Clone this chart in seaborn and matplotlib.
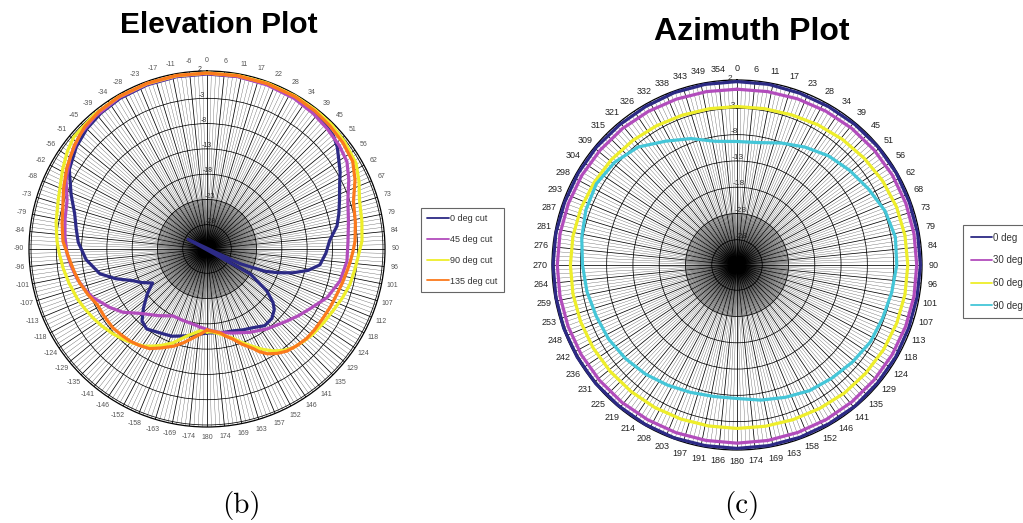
import numpy as np
import matplotlib
matplotlib.use("Agg")
import matplotlib.pyplot as plt
import seaborn as sns
from matplotlib.lines import Line2D

sns.set_style("white")
plt.rcParams["font.family"] = ["Liberation Sans", "DejaVu Sans"]
plt.rcParams["text.color"] = "black"

# ---------------------------------------------------------------- scale (dB)
R_MIN, R_MAX = -32.8, 2.4
ring_levels = [-28, -23, -18, -13, -8, -3, 2]
ring_labels = ["-28", "-23", "-18", "-13", "-8", "-3", "2"]

# angular tick labels, clockwise from the top, every 360/64 degrees
el_tick_labels = ["0", "6", "11", "17", "22", "28", "34", "39", "45", "51", "56",
                  "62", "67", "73", "79", "84", "90", "96", "101", "107", "112",
                  "118", "124", "129", "135", "141", "146", "152", "157", "163",
                  "169", "174", "180", "-174", "-169", "-163", "-158", "-152",
                  "-146", "-141", "-135", "-129", "-124", "-118", "-113", "-107",
                  "-101", "-96", "-90", "-84", "-79", "-73", "-68", "-62", "-56",
                  "-51", "-45", "-39", "-34", "-28", "-23", "-17", "-11", "-6"]
az_tick_labels = ["0", "6", "11", "17", "23", "28", "34", "39", "45", "51", "56",
                  "62", "68", "73", "79", "84", "90", "96", "101", "107", "113",
                  "118", "124", "129", "135", "141", "146", "152", "158", "163",
                  "169", "174", "180", "186", "191", "197", "203", "208", "214",
                  "219", "225", "231", "236", "242", "248", "253", "259", "264",
                  "270", "276", "281", "287", "293", "298", "304", "309", "315",
                  "321", "326", "332", "338", "343", "349", "354"]

# ---------------------------------------------------------------- elevation cuts
el_names = ["0 deg cut", "45 deg cut", "90 deg cut", "135 deg cut"]

el_cut0_ang = [-180, -172, -165, -158, -151, -143, -138, -133, -127, -122, -117,
               -113, -108, -103, -95, -87, -81, -75, -68, -60, -52, -45, -38, -30,
               -20, -10, 0, 10, 20, 30, 36, 42, 48, 52, 56, 60, 63, 66, 70, 75, 80,
               86, 92, 98, 102, 105.5, 108.5, 111, 114, 117, 120, 125, 129, 132,
               137, 143, 150, 156, 162, 170, 180]
el_cut0_db = [-16.2, -15.6, -15.0, -14.2, -13.8, -13.0, -13.6, -15.6, -18.0, -20.1,
              -18.2, -16.8, -13.8, -11.05, -8.8, -7.3, -6.6, -5.7, -3.8, -1.36,
              0.0, 0.82, 1.3, 1.61, 1.75, 1.81, 1.81, 1.85, 1.9, 1.81, 1.65, 1.3,
              0.82, -0.1, -1.36, -2.4, -3.34, -4.1, -4.92, -5.8, -6.7, -8.48,
              -9.27, -10.26, -12.4, -15.2, -18.0, -20.54, -25.68, -37.0, -22.91,
              -18.36, -16.0, -14.9, -14.0, -13.82, -14.81, -15.3, -15.79, -16.0,
              -16.2]

el_cut45_ang = [-180, -175, -169, -161, -153, -144, -134, -127, -121, -113, -108,
                -103, -97, -92, -85, -78, -71, -64, -56, -48, -40, -30, -20, -10,
                0, 10, 20, 30, 38, 45, 52, 58, 64, 71, 79, 87, 95, 103.5, 112, 120,
                126, 132, 143, 153, 163, 170, 176, 180]
el_cut45_db = [-16.9, -17.3, -17.71, -17.9, -17.95, -16.5, -14.47, -12.0, -10.36,
               -8.28, -7.3, -6.46, -5.7, -5.12, -4.6, -4.1, -3.53, -1.8, -0.2,
               1.01, 1.5, 1.81, 1.88, 1.9, 1.9, 1.85, 1.75, 1.61, 1.25, 0.82, 0.4,
               -0.17, -1.6, -3.34, -4.3, -4.88, -5.02, -5.75, -7.17, -9.23, -10.4,
               -11.52, -13.03, -14.3, -15.42, -16.0, -16.55, -16.9]

el_cut90_ang = [-180, -175, -171, -167, -160, -155, -151, -147, -142, -137, -132,
                -126, -121, -116, -111, -104, -97.5, -92, -87, -80, -72, -66, -61,
                -55, -50, -40, -30, -20, -10, 0, 10, 20, 30, 38, 45, 52, 60, 66, 72,
                80, 87, 93, 98, 104, 110, 116, 122, 129, 134, 139, 143, 147, 151,
                155, 160, 164, 170, 176, 180]
el_cut90_db = [-16.4, -16.53, -15.9, -15.14, -13.03, -11.8, -10.85, -9.9, -9.15,
               -8.4, -7.75, -7.0, -6.44, -5.9, -5.33, -4.7, -4.09, -3.6, -3.1,
               -2.5, -1.85, -1.1, -0.17, 0.9, 1.61, 1.9, 2.0, 2.0, 2.0, 2.0, 2.05,
               2.1, 2.1, 2.05, 2.0, 1.7, 1.21, 0.1, -1.1, -1.7, -2.11, -2.88, -3.3,
               -3.69, -4.35, -5.04, -5.5, -5.93, -6.4, -6.88, -7.7, -8.77, -10.1,
               -11.56, -13.2, -14.47, -15.6, -16.35, -16.4]

el_cut135_ang = [-180, -176, -171, -166, -161, -155, -150, -145, -140, -135, -130,
                 -123, -117, -111, -105, -100, -95, -87, -80, -74, -67, -60, -52,
                 -45, -38, -30, -20, -10, 0, 10, 20, 30, 38, 45, 52, 59, 65, 72, 80,
                 87, 91, 95, 99, 104, 109, 115, 121, 127, 132, 137, 142, 146, 150,
                 153, 155, 160, 164, 168, 171, 176, 180]
el_cut135_db = [-16.78, -16.0, -14.98, -13.7, -12.47, -11.2, -10.06, -9.5, -9.07,
                -8.8, -8.52, -8.5, -8.48, -7.6, -6.76, -6.2, -5.61, -4.28, -3.7,
                -3.14, -2.0, -0.77, 0.5, 1.41, 1.8, 2.0, 2.05, 2.05, 2.0, 2.0, 2.0,
                2.0, 1.85, 1.61, 1.3, 0.82, -0.5, -2.35, -3.0, -3.49, -3.93, -4.35,
                -4.78, -5.2, -5.59, -5.85, -6.1, -6.2, -6.32, -6.7, -7.17, -7.9,
                -8.87, -10.0, -11.05, -12.8, -14.27, -15.2, -15.99, -16.5, -16.78]

# ---------------------------------------------------------------- azimuth cuts
az_names = ["0 deg", "30 deg", "60 deg", "90 deg"]
az_ang = list(range(0, 360, 10))
az_deg0_db = [2.1, 2.1, 2.0, 2.0, 2.1, 2.2, 2.2, 2.1, 2.1, 2.1, 2.0, 2.0, 2.1, 2.1,
              2.2, 2.1, 2.1, 2.1, 2.1, 2.1, 2.2, 2.2, 2.2, 2.3, 2.3, 2.3, 2.2, 2.2,
              2.2, 2.1, 2.1, 2.1, 2.0, 2.0, 2.1, 2.1]
az_deg30_db = [0.65, 0.7, 0.85, 1.0, 1.15, 1.25, 1.35, 1.4, 1.4, 1.4, 1.4, 1.35, 1.3,
               1.25, 1.2, 1.15, 1.1, 1.1, 1.1, 1.1, 1.15, 1.2, 1.3, 1.35, 1.4, 1.4,
               1.4, 1.4, 1.4, 1.35, 1.3, 1.2, 1.1, 0.95, 0.8, 0.7]
az_deg60_db = [-2.65, -2.6, -2.4, -2.0, -1.6, -1.2, -0.8, -0.5, -0.35, -0.3, -0.35,
               -0.45, -0.6, -0.8, -1.0, -1.3, -1.5, -1.65, -1.7, -1.7, -1.6, -1.5,
               -1.4, -1.3, -1.2, -1.15, -1.1, -1.1, -1.1, -1.2, -1.4, -1.6, -1.9,
               -2.2, -2.45, -2.6]
az_deg90_db = [-9.3, -9.15, -8.1, -6.9, -5.7, -4.8, -3.9, -2.8, -2.2, -2.4, -2.9,
               -3.3, -3.5, -4.1, -4.7, -5.2, -6.0, -6.7, -7.4, -7.4, -7.0, -6.4,
               -5.7, -5.1, -4.6, -4.3, -3.8, -3.4, -2.8, -2.2, -1.9, -2.4, -3.5,
               -5.6, -7.2, -8.9]

colors = ["#2c2a85", "#b24cbc", "#eeee2a", "#fb7a1c"]
az_colors = ["#2c2a85", "#b24cbc", "#eeee2a", "#44c6d8"]


def style_polar(ax, labels, label_size, label_color, pad, rlabel_size):
    ax.set_theta_zero_location("N")
    ax.set_theta_direction(-1)
    ax.set_xticks(np.deg2rad(np.arange(64) * 5.625))
    ax.set_xticklabels(labels)
    ax.set_xticks(np.deg2rad(np.arange(256) * 1.40625), minor=True)
    ax.set_ylim(R_MIN, R_MAX)
    ax.set_yticks(ring_levels)
    ax.set_yticklabels(ring_labels)
    ax.set_rlabel_position(-3)
    ax.grid(True, which="major", color="black", lw=0.55)
    ax.xaxis.grid(True, which="minor", color="black", lw=0.25, alpha=0.7)
    # extra-fine radial hatching around the pole, up to the -23 dB ring
    fine = np.deg2rad(np.arange(720) * 0.5)
    ax.vlines(fine, R_MIN, ring_levels[1], color="black", lw=0.18, alpha=0.45,
              zorder=1)
    ax.tick_params(axis="x", which="both", pad=pad, labelsize=label_size,
                   labelcolor=label_color, length=0)
    ax.tick_params(axis="y", labelsize=rlabel_size, labelcolor="#333333")
    ax.spines["polar"].set_color("black")
    ax.spines["polar"].set_linewidth(0.9)
    ax.set_xlabel("")
    ax.set_ylabel("")
    ax.set_ylim(R_MIN, R_MAX)


def polar_trace(ax, ang_deg, db, color):
    th = np.deg2rad(np.asarray(ang_deg, dtype=float))
    r = np.asarray(db, dtype=float)
    # readings below the inner limit are drawn through the centre
    below = r < R_MIN
    th = np.where(below, th + np.pi, th)
    r = np.where(below, 2 * R_MIN - r, r)
    sns.lineplot(x=th, y=r, ax=ax, sort=False, estimator=None, color=color,
                 lw=2.3, legend=False, clip_on=False, zorder=5)


fig = plt.figure(figsize=(10.23, 5.23), dpi=100)
W, H = 1023, 523

# ---------------------------------------------------------------- elevation
ax_el = fig.add_axes([29 / W, 96 / H, 356 / W, 356 / H], projection="polar")
for ang, db, c in zip([el_cut0_ang, el_cut45_ang, el_cut90_ang, el_cut135_ang],
                      [el_cut0_db, el_cut45_db, el_cut90_db, el_cut135_db], colors):
    polar_trace(ax_el, ang, db, c)
style_polar(ax_el, el_tick_labels, 5, "#555555", 0.5, 5)

# ---------------------------------------------------------------- azimuth
ax_az = fig.add_axes([552 / W, 73 / H, 370 / W, 370 / H], projection="polar")
for db, c in zip([az_deg0_db, az_deg30_db, az_deg60_db, az_deg90_db], az_colors):
    polar_trace(ax_az, az_ang + [360], db + db[:1], c)
style_polar(ax_az, az_tick_labels, 6.5, "#222222", 1.5, 6)

# ---------------------------------------------------------------- legends
el_handles = [Line2D([], [], color=c, lw=1.3) for c in colors]
fig.legend(el_handles, el_names, loc="upper left",
           bbox_to_anchor=(421 / W, 1 - 208 / H), bbox_transform=fig.transFigure,
           fontsize=6.5, handlelength=2.4, handletextpad=0.1, labelspacing=1.3,
           borderpad=0.7, borderaxespad=0, fancybox=False, framealpha=1,
           edgecolor="#666666", labelcolor="#333333").get_frame().set_linewidth(0.8)

az_handles = [Line2D([], [], color=c, lw=1.3) for c in az_colors]
fig.legend(az_handles, az_names, loc="upper left",
           bbox_to_anchor=(963 / W, 1 - 225 / H), bbox_transform=fig.transFigure,
           fontsize=7, handlelength=2.2, handletextpad=0.1, labelspacing=1.3,
           borderpad=0.8, borderaxespad=0, fancybox=False, framealpha=1,
           edgecolor="#666666", labelcolor="#333333").get_frame().set_linewidth(0.8)

# ---------------------------------------------------------------- titles
fig.text(219 / W, 1 - 25 / H, "Elevation Plot", ha="center", va="center",
         fontsize=21.5, fontweight="bold", color="black")
fig.text(752 / W, 1 - 32 / H, "Azimuth Plot", ha="center", va="center",
         fontsize=23, fontweight="bold", color="black")
fig.text(241 / W, 1 - 505 / H, "(b)", ha="center", va="center",
         fontsize=21, family="cmr10", color="black")
fig.text(742 / W, 1 - 505 / H, "(c)", ha="center", va="center",
         fontsize=21, family="cmr10", color="black")

fig.savefig("out.png", dpi=100, facecolor="white")
